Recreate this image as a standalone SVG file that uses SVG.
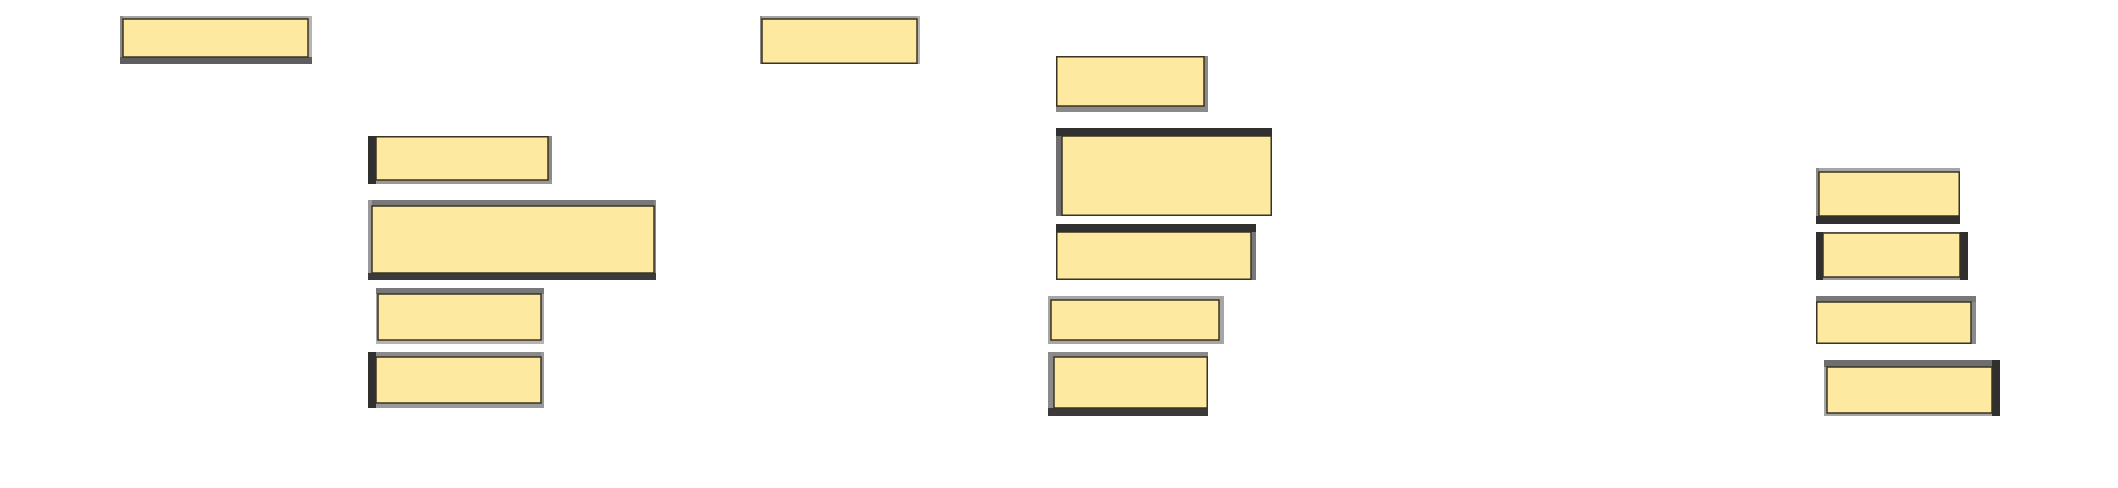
<svg xmlns="http://www.w3.org/2000/svg" width="2118" height="488" viewBox="0 0 2118 488">
<style>
.box{fill:#fee9a0;stroke:#3b3321;stroke-width:1.5}
.dk{fill:#2f2f2f}
.d3{fill:#3a3a3a}
.g5{fill:#5e5e5e}
.g6{fill:#6e6e6e}
.g7{fill:#787878}
.g8{fill:#8a8a8a}
.g9{fill:#999999}
.ga{fill:#a6a6a6}
.gb{fill:#b4b4b4}
</style>
<rect width="2118" height="488" fill="#ffffff"/>
<g id="connectors"></g>
<g id="node-a">
<rect class="ga" x="120" y="16" width="192" height="3"/>
<rect class="g8" x="120" y="16" width="3" height="48"/>
<rect class="gb" x="308" y="16" width="4" height="48"/>
<rect class="g5" x="120" y="57" width="192" height="7"/>
<rect class="box" x="123" y="19" width="185" height="38"/>
</g>
<g id="node-b">
<rect class="ga" x="760" y="16" width="160" height="3"/>
<rect class="g8" x="760" y="16" width="2" height="48"/>
<rect class="gb" x="917" y="16" width="3" height="48"/>
<rect class="box" x="762" y="19" width="155" height="44.25"/>
</g>
<g id="node-c">
<rect class="g8" x="1204" y="56" width="4" height="56"/>
<rect class="g8" x="1056" y="106" width="152" height="6"/>
<rect class="box" x="1056.75" y="56.75" width="147.25" height="49.25"/>
</g>
<g id="node-d">
<rect class="g8" x="548" y="136" width="4" height="48"/>
<rect class="g9" x="368" y="180" width="184" height="4"/>
<rect class="dk" x="368" y="136" width="8" height="48"/>
<rect class="box" x="376" y="136.75" width="172" height="43.25"/>
</g>
<g id="node-e">
<rect class="g6" x="1056" y="128" width="6" height="88"/>
<rect class="dk" x="1056" y="128" width="216" height="8"/>
<rect class="box" x="1062" y="136" width="209.25" height="79.25"/>
</g>
<g id="node-f">
<rect class="ga" x="1816" y="168" width="144" height="4"/>
<rect class="g8" x="1816" y="168" width="3" height="56"/>
<rect class="dk" x="1816" y="216" width="144" height="8"/>
<rect class="box" x="1819" y="172" width="140.25" height="44"/>
</g>
<g id="node-g">
<rect class="g7" x="368" y="200" width="288" height="6"/>
<rect class="g9" x="368" y="200" width="4" height="80"/>
<rect class="g8" x="654" y="200" width="2" height="80"/>
<rect class="d3" x="368" y="273" width="288" height="7"/>
<rect class="box" x="372" y="206" width="282" height="67"/>
</g>
<g id="node-h">
<rect class="g7" x="1251" y="224" width="5" height="56"/>
<rect class="dk" x="1056" y="224" width="200" height="8"/>
<rect class="box" x="1056.75" y="232" width="194.25" height="47.25"/>
</g>
<g id="node-i">
<rect class="ga" x="1816" y="232" width="152" height="1"/>
<rect class="g9" x="1816" y="277" width="152" height="3"/>
<rect class="dk" x="1816" y="232" width="7" height="48"/>
<rect class="dk" x="1960" y="232" width="8" height="48"/>
<rect class="box" x="1823" y="233" width="137" height="44"/>
</g>
<g id="node-j">
<rect class="ga" x="376" y="288" width="2" height="56"/>
<rect class="ga" x="541" y="288" width="3" height="56"/>
<rect class="gb" x="376" y="340" width="168" height="4"/>
<rect class="g7" x="376" y="288" width="168" height="6"/>
<rect class="box" x="378" y="294" width="163" height="46"/>
</g>
<g id="node-k">
<rect class="ga" x="1048" y="296" width="176" height="48"/>
<rect class="box" x="1051" y="300" width="168" height="40"/>
</g>
<g id="node-l">
<rect class="g8" x="1971" y="296" width="5" height="48"/>
<rect class="g7" x="1816" y="296" width="160" height="6"/>
<rect class="box" x="1816.75" y="302" width="154.25" height="41.25"/>
</g>
<g id="node-m">
<rect class="g8" x="368" y="352" width="176" height="5"/>
<rect class="g9" x="368" y="403" width="176" height="5"/>
<rect class="g9" x="541" y="352" width="3" height="56"/>
<rect class="dk" x="368" y="352" width="8" height="56"/>
<rect class="box" x="376" y="357" width="165" height="46"/>
</g>
<g id="node-n">
<rect class="g8" x="1048" y="352" width="160" height="5"/>
<rect class="g8" x="1048" y="352" width="6" height="64"/>
<rect class="d3" x="1048" y="408" width="160" height="8"/>
<rect class="box" x="1054" y="357" width="153.25" height="51"/>
</g>
<g id="node-o">
<rect class="ga" x="1824" y="360" width="3" height="56"/>
<rect class="ga" x="1824" y="413" width="176" height="3"/>
<rect class="g6" x="1824" y="360" width="176" height="7"/>
<rect class="dk" x="1992" y="360" width="8" height="56"/>
<rect class="box" x="1827" y="367" width="165" height="46"/>
</g>
</svg>
